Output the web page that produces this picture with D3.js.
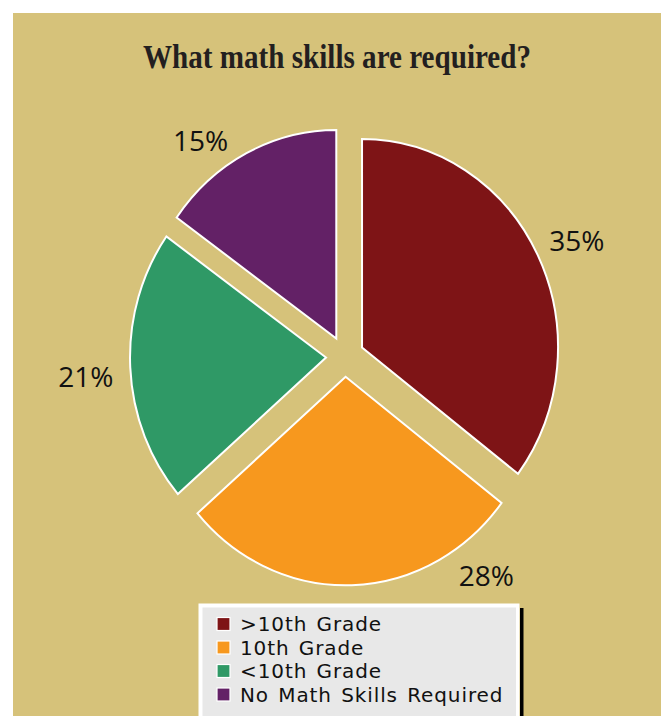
<!DOCTYPE html>
<html>
<head>
<meta charset="utf-8">
<script src="https://cdn.jsdelivr.net/npm/d3@7"></script>
<style>
  html, body { margin: 0; padding: 0; background: #ffffff; }
  svg { display: block; }
</style>
</head>
<body>
<svg id="chart" width="665" height="716"></svg>
<script>
// Survey result: share of jobs by required math level
const categories = [">10th Grade", "10th Grade", "<10th Grade", "No Math Skills Required"];
const shares = [35, 28, 21, 15];
const valueLabels = ["35%", "28%", "21%", "15%"];
const colors = ["#7e1416", "#f7981e", "#2f9966", "#632166"];

const W = 665, H = 716;
const svg = d3.select("#chart");

// panel
svg.append("rect")
  .attr("x", 13).attr("y", 13)
  .attr("width", 648).attr("height", H - 13)
  .attr("fill", "#d6c27a");

// title
svg.append("text")
  .attr("x", 337).attr("y", 68)
  .attr("text-anchor", "middle")
  .attr("font-family", "'Liberation Serif', 'Times New Roman', serif")
  .attr("font-weight", "bold")
  .attr("font-size", 34)
  .attr("textLength", 388)
  .attr("lengthAdjust", "spacingAndGlyphs")
  .attr("fill", "#231f20")
  .text("What math skills are required?");

// pie layout
const cx = 345, cy = 356.5;
const radius = 196, yStretch = 1.064, explode = 19;
const pie = d3.pie().sort(null).value(d => d)(shares);
const arc = d3.arc().innerRadius(0).outerRadius(radius);

const pieG = svg.append("g")
  .attr("transform", `translate(${cx},${cy}) scale(1,${yStretch})`);

pieG.selectAll("path")
  .data(pie)
  .join("path")
  .attr("transform", d => {
    const a = (d.startAngle + d.endAngle) / 2;
    return `translate(${explode * Math.sin(a)},${-explode * Math.cos(a)})`;
  })
  .attr("d", arc)
  .attr("fill", (d, i) => colors[i])
  .attr("stroke", "#ffffff")
  .attr("stroke-width", 2)
  .attr("stroke-linejoin", "miter")
  .attr("vector-effect", "non-scaling-stroke");

// percentage labels placed outside each slice
const labelFrac = [0.51, 0.18, 0.48, 0.35];
const labelR = [256, 250, 260, 249];
svg.append("g")
  .selectAll("text")
  .data(pie)
  .join("text")
  .attr("x", (d, i) => {
    const a = d.startAngle + labelFrac[i] * (d.endAngle - d.startAngle);
    return cx + labelR[i] * Math.sin(a);
  })
  .attr("y", (d, i) => {
    const a = d.startAngle + labelFrac[i] * (d.endAngle - d.startAngle);
    return cy - labelR[i] * Math.cos(a) * yStretch;
  })
  .attr("dy", "0.36em")
  .attr("text-anchor", "middle")
  .attr("font-family", "'Open Sans', 'Noto Sans', sans-serif")
  .attr("font-size", 28)
  .attr("fill", "#111111")
  .text((d, i) => valueLabels[i]);

// legend box
const lg = svg.append("g");
lg.append("rect")
  .attr("x", 520).attr("y", 608).attr("width", 3.5).attr("height", H - 608)
  .attr("fill", "#000000");
lg.append("rect")
  .attr("x", 198.5).attr("y", 603.5).attr("width", 321).attr("height", H)
  .attr("fill", "#ffffff");
lg.append("rect")
  .attr("x", 202.5).attr("y", 607.5).attr("width", 313.5).attr("height", H)
  .attr("fill", "#e8e8e8");

const row = d3.scaleBand().domain(categories).range([615, 709]);
const item = lg.selectAll("g.item")
  .data(categories)
  .join("g")
  .attr("class", "item")
  .attr("transform", d => `translate(0,${row(d)})`);

item.append("rect")
  .attr("x", 217).attr("y", 2.5)
  .attr("width", 13).attr("height", 13)
  .attr("fill", (d, i) => colors[i])
  .attr("stroke", "#ffffff")
  .attr("stroke-width", 1.2);

item.append("text")
  .attr("x", 240).attr("y", 16)
  .attr("font-family", "'DejaVu Sans', 'Noto Sans', sans-serif")
  .attr("font-size", 20)
  .attr("letter-spacing", 0.9)
  .attr("word-spacing", 2)
  .attr("fill", "#111111")
  .text(d => d);
</script>
</body>
</html>
